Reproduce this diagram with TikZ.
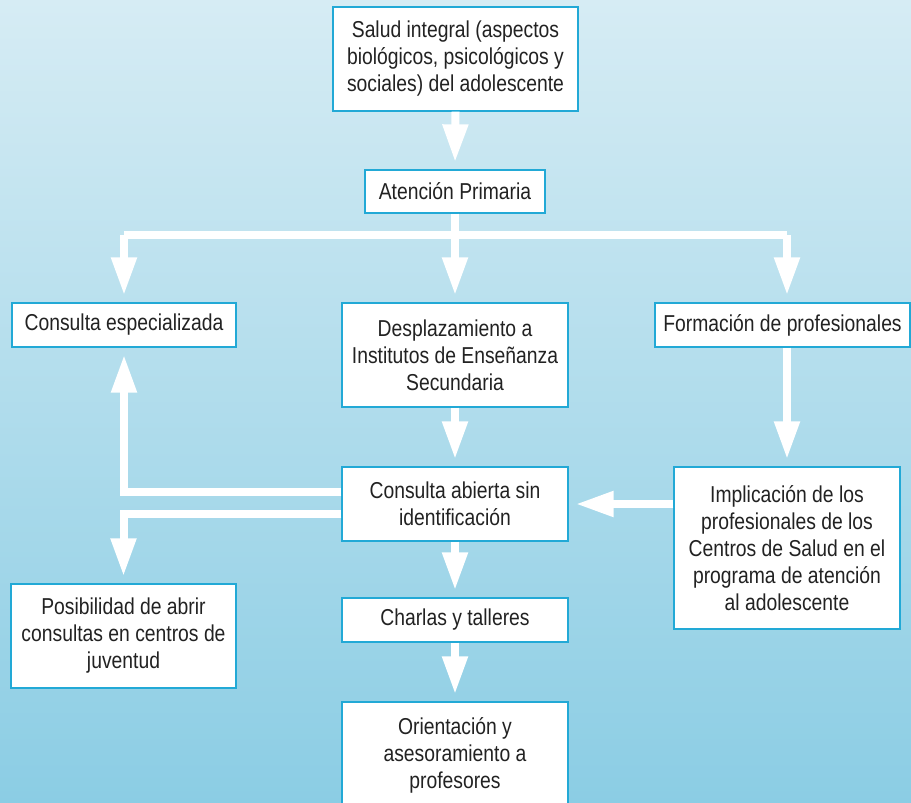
\documentclass[tikz,border=0pt]{standalone}
\usepackage{fontspec}
\setmainfont{Liberation Sans}[FakeStretch=0.84]
\usetikzlibrary{arrows.meta}
\definecolor{bgtop}{HTML}{D6ECF4}
\definecolor{bgbot}{HTML}{8BCDE4}
\definecolor{boxline}{HTML}{22A9D6}
\definecolor{txt}{HTML}{222222}
\begin{document}
\begin{tikzpicture}[x=1pt,y=-1pt,
  box/.style={draw=boxline, line width=1.3pt, fill=white, inner sep=0pt, align=center,
    font=\fontsize{23}{27}\selectfont, text=txt},
  arr/.style={draw=white, line width=8pt, -{Triangle[width=24pt,length=38pt]}, shorten >=7pt},
  bar/.style={draw=white, line width=8pt}]
\clip (0,0) rectangle (911,803);
\shade[top color=bgtop, bottom color=bgbot] (0,0) rectangle (911,803);

\node[box, minimum width=245pt, minimum height=104pt] (salud) at (455.5,59)
  {Salud integral (aspectos\\biológicos, psicológicos y\\sociales) del adolescente};
\node[box, minimum width=180pt, minimum height=43pt] (aten) at (455,191.5) {Atención Primaria};
\node[box, minimum width=224pt, minimum height=44pt] (esp) at (124,325) {Consulta especializada};
\node[box, minimum width=226pt, minimum height=104pt] (desp) at (455,355)
  {Desplazamiento a\\Institutos de Enseñanza\\Secundaria};
\node[box, minimum width=255pt, minimum height=44pt] (form) at (782.5,325) {Formación de profesionales};
\node[box, minimum width=226pt, minimum height=74pt] (abierta) at (455,504)
  {Consulta abierta sin\\identificación};
\node[box, minimum width=226pt, minimum height=162pt] (impl) at (787,548)
  {Implicación de los\\profesionales de los\\Centros de Salud en el\\programa de atención\\al adolescente};
\node[box, minimum width=225pt, minimum height=104pt] (posib) at (123.5,636)
  {Posibilidad de abrir\\consultas en centros de\\juventud};
\node[box, minimum width=226pt, minimum height=44pt] (charlas) at (455,620) {Charlas y talleres};
\node[box, minimum width=226pt, minimum height=106pt] (orient) at (455,755)
  {Orientación y\\asesoramiento a\\profesores};

\coordinate (hub) at (455,235);
\draw[bar, line cap=square] (esp.north |- hub) -- (impl.north |- hub);
\draw[arr] (salud.south) -- (aten.north);
\draw[bar] (aten.south) -- (hub);
\draw[arr] (hub) -- (desp.north);
\draw[arr] (esp.north |- hub) -- (esp.north);
\draw[arr] (impl.north |- hub) -- (impl.north |- form.north);
\draw[arr] (impl.north |- form.south) -- (impl.north);
\draw[arr] (desp.south) -- (abierta.north);
\draw[arr] ([yshift=12pt]abierta.west) -| (esp.south);
\draw[arr] ([yshift=-10pt]abierta.west) -| (posib.north);
\draw[arr] (impl.west |- abierta) -- (abierta.east);
\draw[arr] (abierta.south) -- (charlas.north);
\draw[arr] (charlas.south) -- (orient.north);
\end{tikzpicture}
\end{document}
